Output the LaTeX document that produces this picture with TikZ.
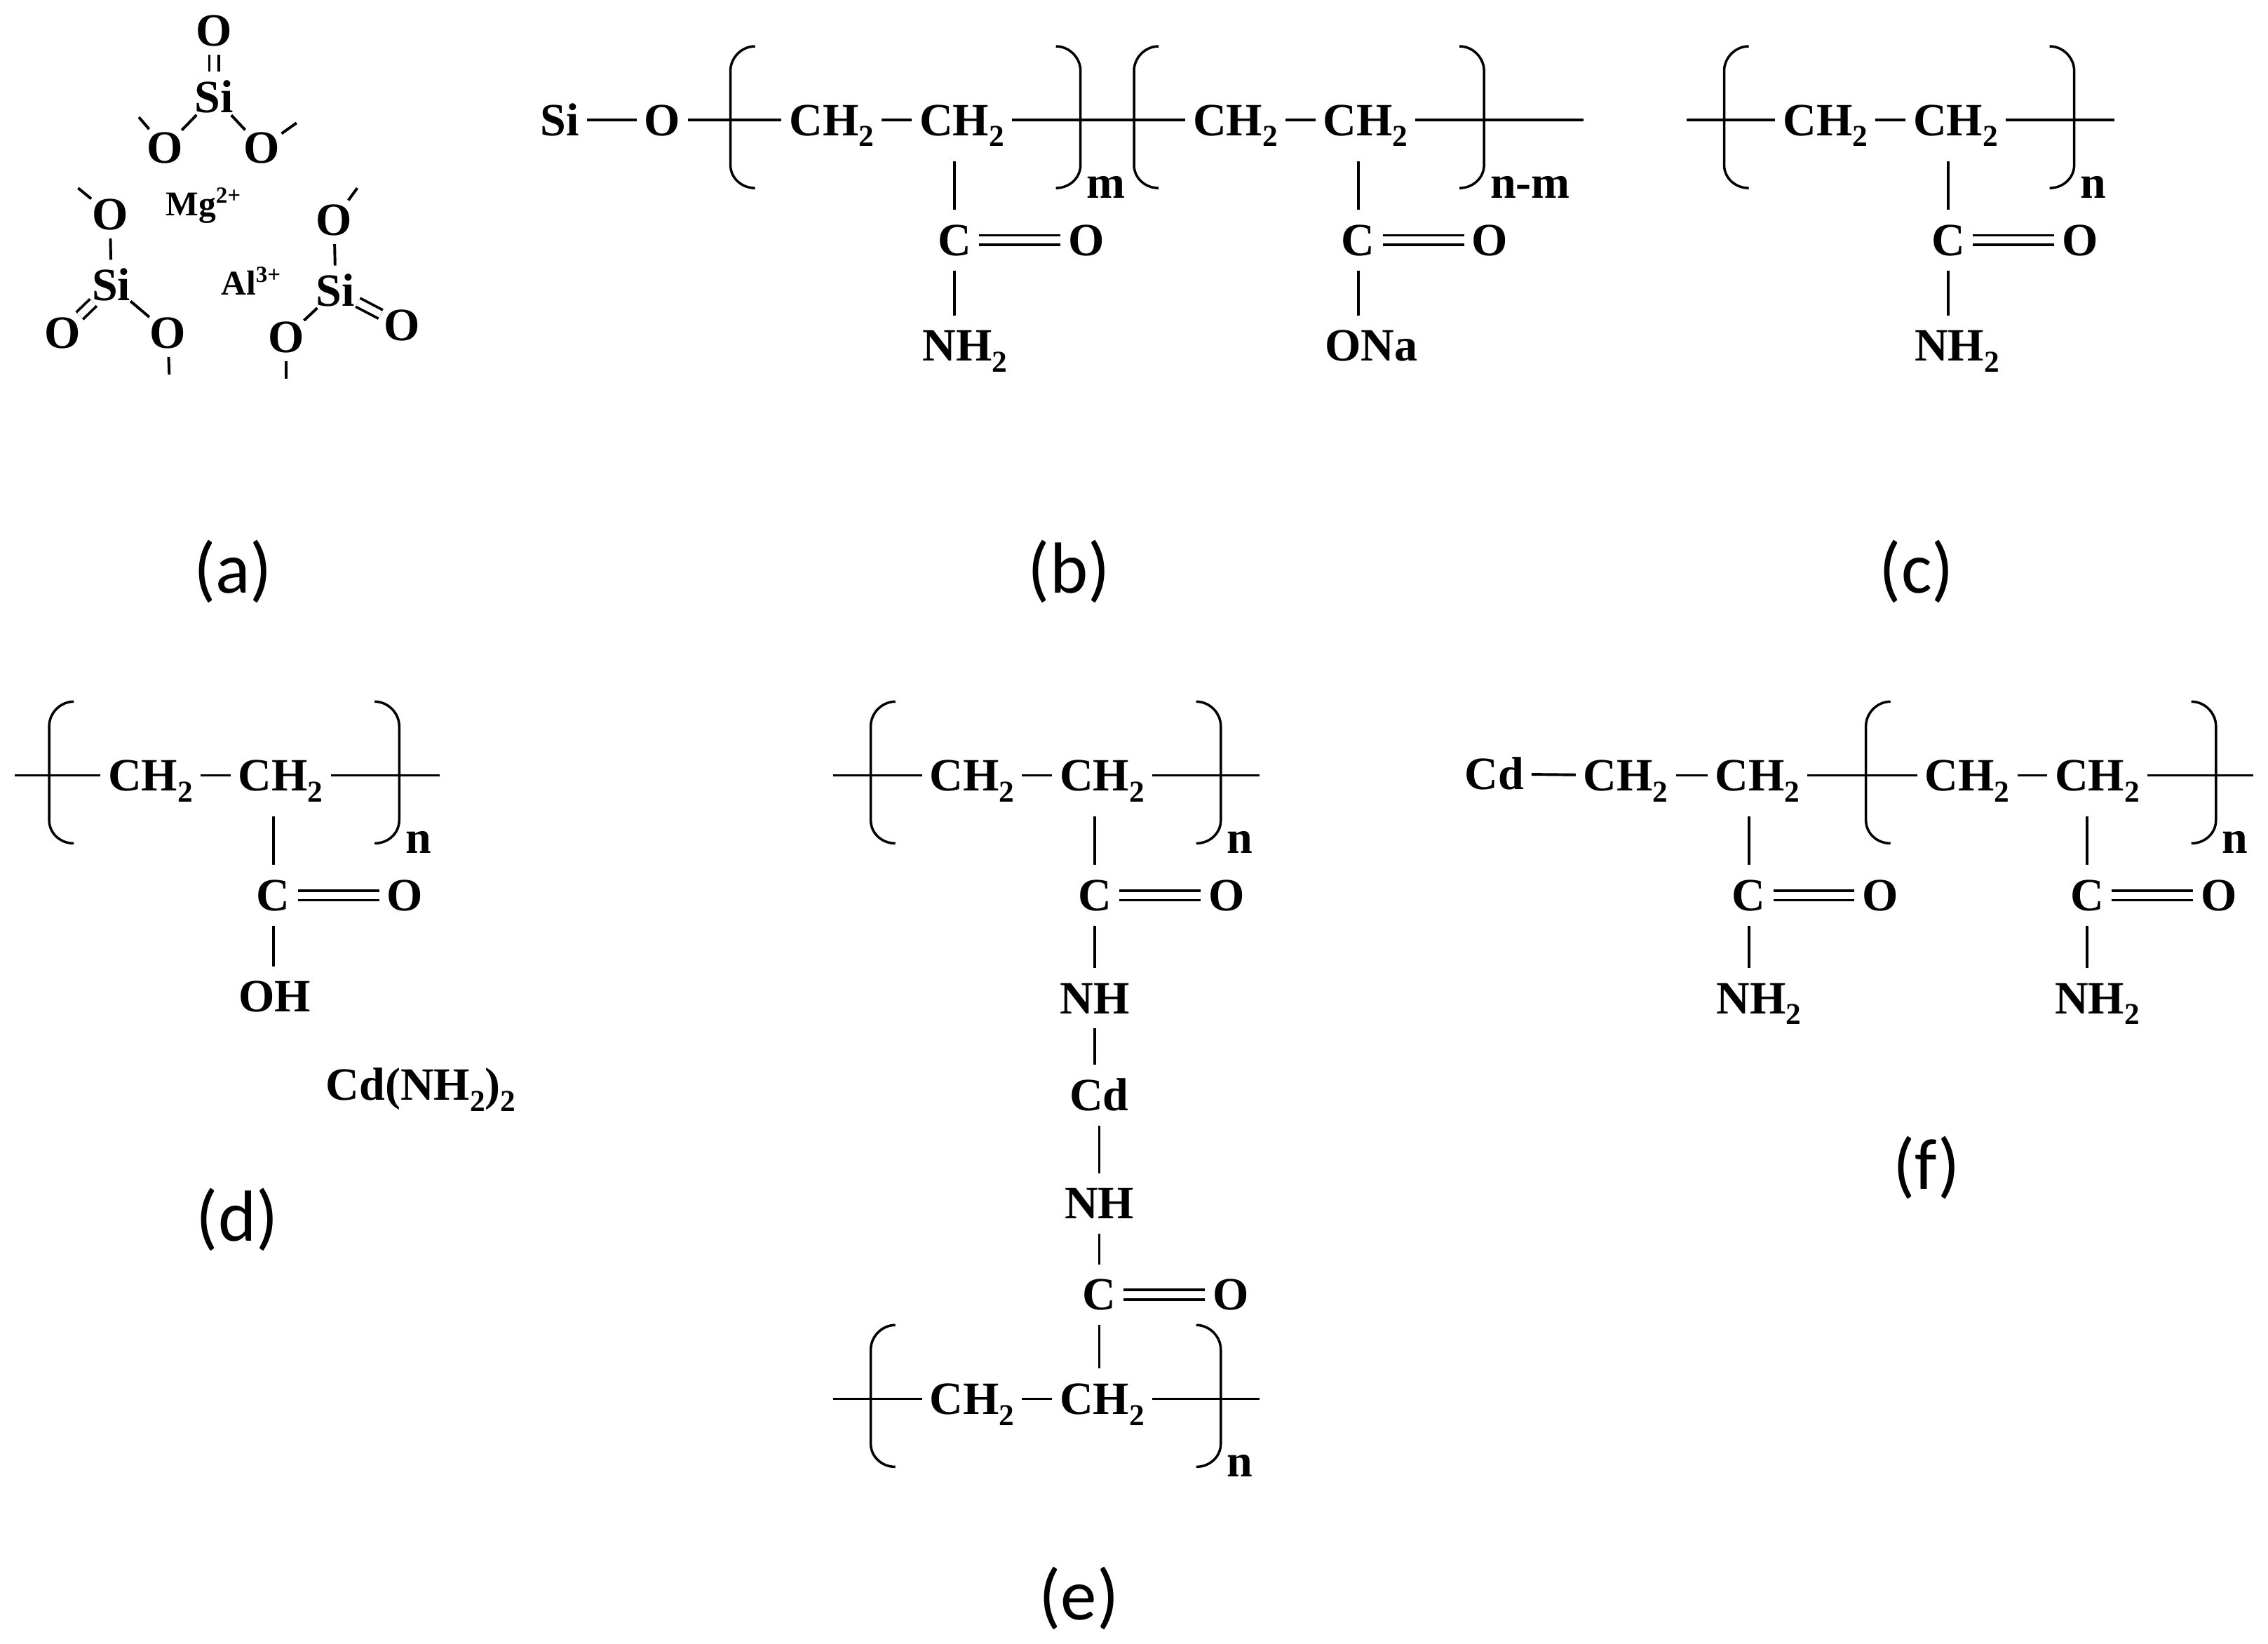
\documentclass[tikz,border=0pt]{standalone}
\usepackage{fontspec}
\setmainfont{Liberation Serif}
\newfontfamily\capfont{Carlito}
\newcommand{\subtwo}{\raisebox{-3.8pt}{\fontsize{10.5}{12}\selectfont 2}}

\tikzset{
  lbl/.style={font=\fontsize{16}{18}\selectfont\bfseries,text height=10.6pt,text depth=0pt,inner xsep=2.5pt,inner ysep=5pt},
  ring/.style={font=\fontsize{16}{18}\selectfont\bfseries,circle,inner sep=0pt,minimum size=16pt,text height=10.6pt,text depth=0pt},
  ion/.style={font=\fontsize{12}{14}\selectfont\bfseries,inner sep=0pt},
  repeatsub/.style={font=\fontsize{16}{18}\selectfont\bfseries,inner sep=0pt,anchor=base west},
  panel/.style={font=\fontsize{25}{28}\selectfont\capfont,inner sep=0pt},
  bond/.style={line width=.95pt},
  dbl/.style={line width=.9pt,double,double distance=2.4pt},
  brk/.style={line width=.85pt}
}

\begin{document}
\begin{tikzpicture}[x=0.5pt,y=-0.5pt]
  \useasboundingbox (0,0) rectangle (1568,1136);

  % silicate sheet
  \node[ring] (ot) at (148,21) {O};
  \node[ring] (sit) at (148,67) {Si};
  \node[ring] (otl) at (114,102) {O};
  \node[ring] (otr) at (181,102) {O};
  \node[ring] (ola) at (76,148) {O};
  \node[ring] (sil) at (77,197) {Si};
  \node[ring] (olb) at (43,230) {O};
  \node[ring] (olc) at (116,230) {O};
  \node[ring] (ora) at (231,152) {O};
  \node[ring] (sir) at (232,201) {Si};
  \node[ring] (orb) at (198,233) {O};
  \node[ring] (orc) at (278,225) {O};
  \node[ion] (mg) at (141,142) {Mg\textsuperscript{2+}};
  \node[ion] (al) at (174,194) {Al\textsuperscript{3+}};
  \coordinate (ftl) at (96,81);
  \coordinate (ftr) at (205,85);
  \coordinate (fla) at (54,130);
  \coordinate (flc) at (117,259);
  \coordinate (fra) at (247,130);
  \coordinate (frb) at (198,262);
  \foreach \p/\q in {sit/otl,sit/otr,otl/ftl,otr/ftr,ola/sil,ola/fla,sil/olc,olc/flc,ora/sir,ora/fra,sir/orb,orb/frb}
    \draw[bond] (\p) -- (\q);
  \foreach \p/\q in {sit/ot,sil/olb,sir/orc}
    \draw[dbl] (\p) -- (\q);

  % repeat units with their brackets
  \foreach \nm/\x/\y/\sb in {bm/575/83/m,bk/854/83/n-m,c/1262/83/n,d/104/536/n,e/672/536/n,g/672/967/n,f/1360/536/n} {
    \node[lbl] (\nm1) at (\x,\y) {CH\subtwo};
    \node[lbl] (\nm2) at (\x+90,\y) {CH\subtwo};
    \node[repeatsub] (\nm s) at (\x+176,\y+54) {\sb};
    \draw[brk] (\x-53,\y-51) .. controls (\x-62.4,\y-51) and (\x-70,\y-43) .. (\x-70,\y-34) -- (\x-70,\y+31) .. controls (\x-70,\y+40) and (\x-62.4,\y+47) .. (\x-53,\y+47);
    \draw[brk] (\x+155,\y-51) .. controls (\x+164.4,\y-51) and (\x+172,\y-43) .. (\x+172,\y-34) -- (\x+172,\y+31) .. controls (\x+172,\y+40) and (\x+164.4,\y+47) .. (\x+155,\y+47);
  }

  % carbonyl groups
  \foreach \nm/\x/\y in {bmc/660/166,bkc/939/166,cc/1347/166,dc/189/619,ec/757/619,gc/760/895,fac/1209/619,fbc/1443/619} {
    \node[lbl] (\nm) at (\x,\y) {C};
    \node[lbl] (\nm o) at (\x+91,\y) {O};
    \draw[dbl] (\nm) -- (\nm o);
  }

  % end groups and chain ends
  \node[lbl] (bsi) at (387,83) {Si};
  \node[lbl] (bo) at (458,83) {O};
  \node[lbl] (bmn) at (667,239) {NH\subtwo};
  \node[lbl] (bkn) at (948,239) {ONa};
  \node[lbl] (cn) at (1353,239) {NH\subtwo};
  \node[lbl] (dn) at (190,689) {OH};
  \node[lbl] (dcd) at (291,750) {Cd(NH\subtwo)\subtwo};
  \node[lbl] (en1) at (757,690) {NH};
  \node[lbl] (ecd) at (760,757) {Cd};
  \node[lbl] (en2) at (760,832) {NH};
  \node[lbl] (fcd) at (1033,535) {Cd};
  \node[lbl] (fx1) at (1124,536) {CH\subtwo};
  \node[lbl] (fx2) at (1215,536) {CH\subtwo};
  \node[lbl] (fan) at (1216,690) {NH\subtwo};
  \node[lbl] (fbn) at (1450,690) {NH\subtwo};
  \coordinate (bend) at (1095,83);
  \coordinate (cl) at (1166,83);
  \coordinate (cr) at (1462,83);
  \coordinate (dl) at (10,536);
  \coordinate (dr) at (304,536);
  \coordinate (el) at (576,536);
  \coordinate (er) at (871,536);
  \coordinate (gl) at (576,967);
  \coordinate (gr) at (871,967);
  \coordinate (fr) at (1558,536);

  % backbones
  \foreach \p/\q in {bsi/bo,bo/bm1,bm1/bm2,bm2/bk1,bk1/bk2,bk2/bend,cl/c1,c1/c2,c2/cr,dl/d1,d1/d2,d2/dr,el/e1,e1/e2,e2/er,gl/g1,g1/g2,g2/gr,fcd/fx1,fx1/fx2,fx2/f1,f1/f2,f2/fr}
    \draw[bond] (\p) -- (\q);

  % side chains
  \foreach \up/\dn in {bm2/bmc,bk2/bkc,c2/cc,d2/dc,e2/ec,fx2/fac,f2/fbc}
    \draw[bond] ([yshift=-3.7pt]\up.south -| \dn.north) -- (\dn.north);
  \foreach \up/\dn in {bmc/bmn,bkc/bkn,cc/cn,dc/dn,ec/en1,en1/ecd,ecd/en2,en2/gc,gc/g2,fac/fan,fbc/fbn}
    \draw[bond] (\up.south) -- (\up.south |- \dn.north);

  % panel letters
  \node[panel] (pa) at (161,395) {(a)};
  \node[panel] (pb) at (739,395) {(b)};
  \node[panel] (pc) at (1325,395) {(c)};
  \node[panel] (pd) at (164,843) {(d)};
  \node[panel] (pe) at (746,1105) {(e)};
  \node[panel] (pf) at (1332,807) {(f)};
\end{tikzpicture}
\end{document}
